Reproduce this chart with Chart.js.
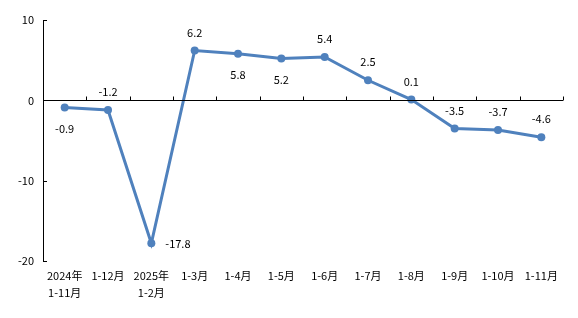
<!DOCTYPE html>
<html>
<head>
<meta charset="utf-8">
<script src="https://cdn.jsdelivr.net/npm/chart.js@4.4.0/dist/chart.umd.min.js"></script>
<style>
  html, body { margin: 0; padding: 0; background: #fff; }
  #wrap { width: 578px; height: 318px; }
</style>
</head>
<body>
<div id="wrap"><canvas id="grafica"></canvas></div>
<script>
// datos de la grafica
var categorias = [["2024年", "1-11月"], "1-12月", ["2025年", "1-2月"], "1-3月", "1-4月", "1-5月", "1-6月", "1-7月", "1-8月", "1-9月", "1-10月", "1-11月"];
var valores = [-0.9, -1.2, -17.8, 6.2, 5.8, 5.2, 5.4, 2.5, 0.1, -3.5, -3.7, -4.6];
var ticksY = [-20, -10, 0, 10];
// donde va cada etiqueta respecto al punto
var posEtiqueta = ['below', 'above', 'right', 'above', 'below', 'below', 'above', 'above', 'above', 'above', 'above', 'above'];

var azul = 'rgb(79, 129, 189)';
var fuente = '"Noto Sans CJK SC", "Noto Sans", sans-serif';

// eje en cero con marcas, marcas del eje y, y etiquetas de datos
var extras = {
    id: 'extras',
    afterDraw: function (chart) {
        var ctx = chart.ctx;
        var x = chart.scales.x, y = chart.scales.y;
        var area = chart.chartArea;
        var y0 = Math.round(y.getPixelForValue(0)) + 0.5;
        ctx.save();
        ctx.strokeStyle = '#000';
        ctx.lineWidth = 1;
        ctx.beginPath();
        ctx.moveTo(area.left, y0);
        ctx.lineTo(area.right, y0);
        for (var i = 0; i <= categorias.length; i++) {
            var px = Math.round(area.left + (area.right - area.left) * i / categorias.length) + 0.5;
            ctx.moveTo(px, y0);
            ctx.lineTo(px, y0 - 4);
        }
        ticksY.forEach(function (v) {
            var py = Math.round(y.getPixelForValue(v)) + 0.5;
            ctx.moveTo(area.left, py);
            ctx.lineTo(area.left + 4, py);
        });
        ctx.stroke();

        var meta = chart.getDatasetMeta(0);
        ctx.fillStyle = '#000';
        ctx.font = '11px ' + fuente;
        ctx.textBaseline = 'middle';
        meta.data.forEach(function (p, i) {
            var t = valores[i].toFixed(1);
            var pos = posEtiqueta[i];
            if (pos === 'right') {
                ctx.textAlign = 'left';
                ctx.fillText(t, p.x + 14, p.y);
            } else if (pos === 'below') {
                ctx.textAlign = 'center';
                ctx.fillText(t, p.x, p.y + 21);
            } else {
                ctx.textAlign = 'center';
                ctx.fillText(t, p.x, p.y - 18);
            }
        });
        ctx.restore();
    }
};

var grafica = new Chart(document.getElementById('grafica'), {
    type: 'line',
    data: {
        labels: categorias,
        datasets: [{
            data: valores,
            borderColor: azul,
            backgroundColor: azul,
            borderWidth: 3,
            pointRadius: 4,
            pointBackgroundColor: azul,
            pointBorderWidth: 0,
            tension: 0
        }]
    },
    options: {
        responsive: true,
        maintainAspectRatio: false,
        animation: false,
        layout: { padding: { top: 20, right: 15, left: 0, bottom: 0 } },
        plugins: {
            legend: { display: false },
            tooltip: { enabled: false }
        },
        scales: {
            x: {
                offset: true,
                grid: { display: false, drawTicks: false },
                border: { display: false },
                ticks: {
                    color: '#000',
                    padding: 7,
                    maxRotation: 0,
                    autoSkip: false,
                    font: { family: fuente, size: 11, lineHeight: 1.5 }
                },
                afterFit: function (s) { s.height = 57; }
            },
            y: {
                min: -20,
                max: 10,
                afterBuildTicks: function (s) {
                    s.ticks = ticksY.map(function (v) { return { value: v }; });
                },
                grid: { display: false, drawTicks: false },
                border: { display: true, color: '#000', width: 1 },
                ticks: {
                    color: '#000',
                    padding: 9,
                    font: { family: fuente, size: 11 }
                },
                afterFit: function (s) { s.width = 43; }
            }
        }
    },
    plugins: [extras]
});
</script>
</body>
</html>
